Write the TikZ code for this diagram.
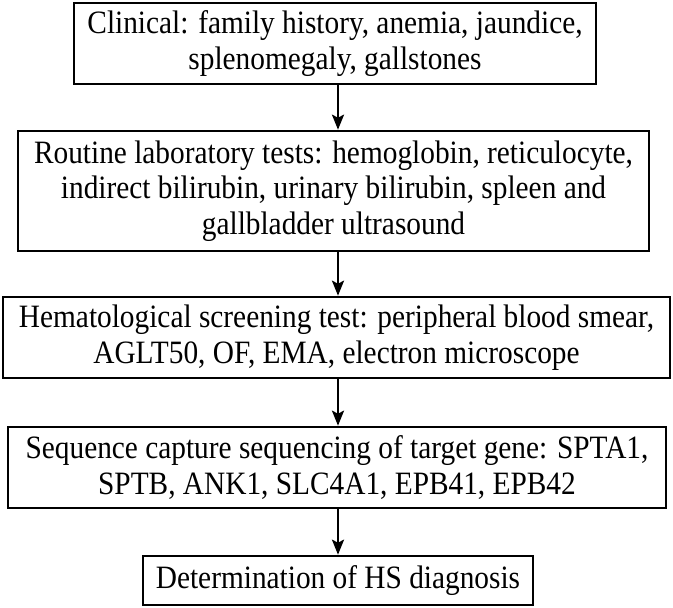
\documentclass[tikz,border=0pt]{standalone}
\usepackage{fontspec}
\setmainfont{Liberation Serif}[FakeStretch=0.9]
\usetikzlibrary{arrows.meta}
\begin{document}
\begin{tikzpicture}[x=1pt,y=1pt,
  flowbox/.style={draw=black, line width=2.6pt, inner sep=0pt, align=center,
    font=\fontsize{32.6}{35.5}\selectfont, text=black},
  flowarrow/.style={line width=2.2pt, -{Stealth[length=15pt,width=12pt,inset=3pt]}}]
\useasboundingbox (0,0) rectangle (673,608);
\node[flowbox, minimum width=522pt, minimum height=81pt] (b1) at (335,564.5)
  {Clinical: family history, anemia, jaundice,\\splenomegaly, gallstones};
\node[flowbox, minimum width=631pt, minimum height=120pt] (b2) at (333.5,417)
  {Routine laboratory tests: hemoglobin, reticulocyte,\\indirect bilirubin, urinary bilirubin, spleen and\\gallbladder ultrasound};
\node[flowbox, minimum width=667pt, minimum height=81pt] (b3) at (336.5,270.5)
  {Hematological screening test: peripheral blood smear,\\AGLT50, OF, EMA, electron microscope};
\node[flowbox, minimum width=658pt, minimum height=81pt] (b4) at (337,140.5)
  {Sequence capture sequencing of target gene: SPTA1,\\SPTB, ANK1, SLC4A1, EPB41, EPB42};
\node[flowbox, minimum width=390pt, minimum height=49pt] (b5) at (338,27.5)
  {Determination of HS diagnosis};
\coordinate (ax) at (338,0);
\draw[flowarrow] (b1.south -| ax) -- (b2.north -| ax);
\draw[flowarrow] (b2.south -| ax) -- (b3.north -| ax);
\draw[flowarrow] (b3.south -| ax) -- (b4.north -| ax);
\draw[flowarrow] (b4.south -| ax) -- (b5.north -| ax);
\end{tikzpicture}
\end{document}
